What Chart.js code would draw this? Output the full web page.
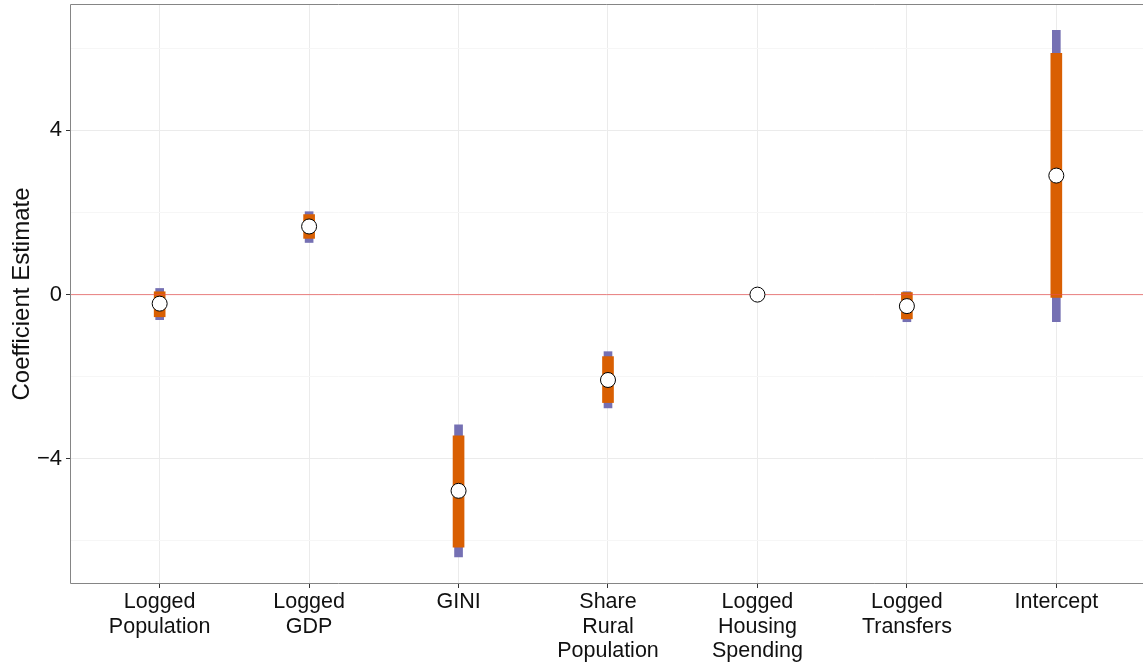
<!DOCTYPE html>
<html>
<head>
<meta charset="utf-8">
<script src="https://cdn.jsdelivr.net/npm/chart.js@4.4.1/dist/chart.umd.min.js"></script>
<style>
  html, body { margin: 0; padding: 0; background: #ffffff; }
  #wrap { width: 1143px; height: 662px; position: relative; }
</style>
</head>
<body>
<div id="wrap"><canvas id="c"></canvas></div>
<script>
// ---- Data ----
const categories = [
  ["Logged", "Population"],
  ["Logged", "GDP"],
  ["GINI"],
  ["Share", "Rural", "Population"],
  ["Logged", "Housing", "Spending"],
  ["Logged", "Transfers"],
  ["Intercept"]
];
const estimate = [-0.22, 1.66, -4.78, -2.08, 0.0, -0.28, 2.9];
const lower95  = [-0.61, 1.27, -6.39, -2.76, -0.02, -0.66, -0.66];
const upper95  = [0.15, 2.02, -3.17, -1.39, 0.02, 0.07, 6.44];
const lower90  = [-0.54, 1.37, -6.15, -2.63, -0.02, -0.59, -0.07];
const upper90  = [0.07, 1.95, -3.44, -1.51, 0.02, 0.05, 5.88];
const referenceValue = 0;
const yTickLabels = [-4, 0, 4];
const yMinorTicks = [-6, -2, 2, 6];
const yTitle = "Coefficient Estimate";

// ---- Build library structures ----
const X_MIN = 0.4, X_MAX = categories.length + 0.58;
const positions = categories.map((_, i) => i + 1);
const ci95 = positions.map((p, i) => ({ x: p, y: [lower95[i], upper95[i]] }));
const ci90 = positions.map((p, i) => ({ x: p, y: [lower90[i], upper90[i]] }));
const points = positions.map((p, i) => ({ x: p, y: estimate[i] }));
const refLine = [{ x: X_MIN, y: referenceValue }, { x: X_MAX, y: referenceValue }];

const FONT = "'Liberation Sans', Arial, Helvetica, sans-serif";

const panelPlugin = {
  id: 'panel',
  afterDraw(chart) {
    const { ctx, chartArea: a } = chart;
    const l = Math.round(a.left) + 0.5, t = Math.round(a.top) + 0.5;
    const b = Math.round(a.bottom) - 0.5, r = a.right;
    ctx.save();
    ctx.lineWidth = 1;
    ctx.strokeStyle = '#858585';
    ctx.beginPath();
    ctx.moveTo(r, t); ctx.lineTo(l, t); ctx.lineTo(l, b); ctx.lineTo(r, b);
    ctx.stroke();
    ctx.restore();
  }
};

new Chart(document.getElementById('c'), {
  type: 'bar',
  data: {
    datasets: [
      {
        type: 'line',
        label: 'Estimate',
        data: points,
        showLine: false,
        borderWidth: 1,
        borderColor: '#000000',
        pointRadius: 7.5,
        pointHoverRadius: 7.5,
        pointBackgroundColor: '#ffffff',
        pointBorderColor: '#000000',
        pointBorderWidth: 1,
        order: 0
      },
      {
        type: 'line',
        label: 'Reference',
        data: refLine,
        borderColor: 'rgba(232, 80, 80, 0.7)',
        borderWidth: 1,
        pointRadius: 0,
        pointHoverRadius: 0,
        fill: false,
        order: 0.5
      },
      {
        label: '90% CI',
        data: ci90,
        backgroundColor: '#D95F02',
        borderWidth: 0,
        barThickness: 11,
        grouped: false,
        order: 1
      },
      {
        label: '95% CI',
        data: ci95,
        backgroundColor: '#7570B3',
        borderWidth: 0,
        barThickness: 8,
        grouped: false,
        order: 2
      }
    ]
  },
  options: {
    responsive: true,
    maintainAspectRatio: false,
    animation: false,
    layout: { autoPadding: false, padding: { top: 4, left: 0, right: 0, bottom: 0 } },
    plugins: {
      legend: { display: false },
      tooltip: { enabled: false }
    },
    scales: {
      x: {
        type: 'linear',
        min: X_MIN,
        max: X_MAX,
        offset: false,
        afterBuildTicks(scale) {
          scale.ticks = positions.map(v => ({ value: v }));
        },
        afterFit(scale) {
          scale.height = 78;
          scale.paddingLeft = 0;
          scale.paddingRight = 0;
        },
        ticks: {
          callback: (v) => categories[Math.round(v) - 1] || '',
          color: '#111111',
          font: { family: FONT, size: 21.5, lineHeight: 1.14 },
          padding: 2,
          maxRotation: 0,
          autoSkip: false
        },
        grid: {
          offset: false,
          color: '#ebebeb',
          lineWidth: 1,
          tickLength: 4,
          tickColor: '#333333',
          drawOnChartArea: true
        },
        border: { display: false }
      },
      y: {
        type: 'linear',
        min: -7.05,
        max: 7.08,
        afterBuildTicks(scale) {
          scale.ticks = yMinorTicks.concat(yTickLabels).sort((a, b) => a - b).map(v => ({ value: v }));
        },
        afterFit(scale) {
          scale.width = 70;
          scale.paddingTop = 0;
          scale.paddingBottom = 0;
        },
        ticks: {
          callback: (v) => yTickLabels.includes(v) ? String(v).replace('-', '\u2212') : '',
          color: '#111111',
          font: { family: FONT, size: 22 },
          padding: 4
        },
        grid: {
          color: (ctx) => yTickLabels.includes(ctx.tick && ctx.tick.value) ? '#ebebeb' : '#f6f6f6',
          lineWidth: 1,
          tickLength: 4,
          tickColor: (ctx) => yTickLabels.includes(ctx.tick && ctx.tick.value) ? '#333333' : 'rgba(0,0,0,0)'
        },
        border: { display: false },
        title: {
          display: true,
          text: yTitle,
          color: '#111111',
          font: { family: FONT, size: 24 },
          padding: { top: 8, bottom: 0 }
        }
      }
    }
  },
  plugins: [panelPlugin]
});
</script>
</body>
</html>
